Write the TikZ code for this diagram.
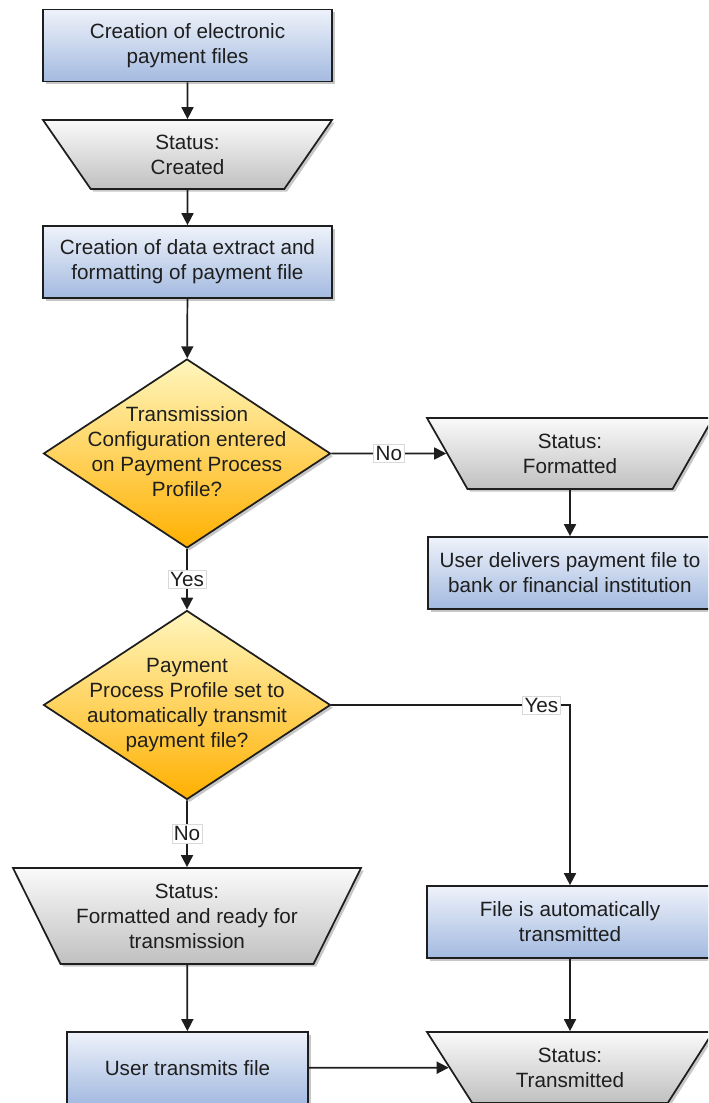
\documentclass[tikz,border=0pt]{standalone}
\usepackage{fontspec}
\setmainfont{Liberation Sans}
\usepackage{tikz}
\usetikzlibrary{shapes.geometric,arrows.meta,shadows}
\usepackage{color}

\definecolor{boxtop}{RGB}{238,242,250}
\definecolor{boxbot}{RGB}{163,186,224}
\definecolor{stattop}{RGB}{250,250,250}
\definecolor{statbot}{RGB}{192,192,192}
\definecolor{qtop}{RGB}{255,246,190}
\definecolor{qbot}{RGB}{255,176,0}
\definecolor{ink}{RGB}{30,30,30}

\newcommand{\qtext}[1]{\smash{\makebox[0pt]{\raisebox{-3.9pt}{\begin{tabular}{@{}c@{}}#1\end{tabular}}}}}

\tikzset{
	base/.style={draw=ink,line width=1.3pt,text=ink,align=center,
		font=\fontsize{15.5}{18.75}\selectfont,
		drop shadow={shadow xshift=2pt,shadow yshift=-2pt,fill=black,opacity=0.22}},
	task/.style={base,rectangle,top color=boxtop,bottom color=boxbot,
		minimum height=54pt,inner sep=2pt},
	status/.style={base,trapezium,shape border rotate=180,top color=stattop,bottom color=statbot,
		trapezium stretches body=true,inner sep=2pt},
	decision/.style={base,diamond,top color=qtop,bottom color=qbot,
		minimum width=215.25pt,minimum height=141.75pt,inner sep=0pt},
	arr/.style={draw=ink,line width=1.3pt,-{Triangle[length=9pt,width=9pt]}},
	lbl/.style={fill=white,draw=gray!30,line width=0.4pt,inner sep=1.5pt,text=ink,
		font=\fontsize{15.5}{18.75}\selectfont}
}

\begin{document}
\begin{tikzpicture}[x=0.75pt,y=-0.75pt]
	\useasboundingbox (0,0) rectangle (708,1103);
	\clip (0,0) rectangle (708,1103);
	\node[task,minimum width=216.75pt] (create) at (187.5,45.5) {Creation of electronic\\payment files};
	\node[status,minimum width=216.75pt,minimum height=51.75pt,trapezium angle=43.3] (created) at (187.5,154.5) {Status:\\Created};
	\node[task,minimum width=216.75pt] (extract) at (187.5,262) {Creation of data extract and\\formatting of payment file};
	\node[decision] (q1) at (187,453.5) {\qtext{Transmission\\Configuration entered\\on Payment Process\\Profile?}};
	\node[status,minimum width=214.5pt,minimum height=53.25pt,trapezium angle=48] (fmt) at (570,453.5) {Status:\\Formatted};
	\node[task,minimum width=213pt] (deliver) at (570,573) {User delivers payment file to\\bank or financial institution};
	\node[decision] (q2) at (187,705) {\qtext{Payment\\Process Profile set to\\automatically transmit\\payment file?}};
	\node[status,minimum width=261pt,minimum height=72pt,trapezium angle=55.8] (ready) at (187,916) {Status:\\Formatted and ready for\\transmission};
	\node[task,minimum width=214.5pt] (auto) at (570,922) {File is automatically\\transmitted};
	\node[task,minimum width=180.75pt] (usertx) at (187.5,1068) {User transmits file};
	\node[status,minimum width=214.5pt,minimum height=53.25pt,trapezium angle=44.8] (txed) at (570,1067.5) {Status:\\Transmitted};
	\draw[arr] (create) -- (created);
	\draw[arr] (created) -- (extract);
	\draw[arr] (extract) -- (q1);
	\draw[arr] (q1) -- node[lbl] {No} (fmt);
	\draw[arr] (fmt) -- (deliver);
	\draw[arr] (q1) -- node[lbl] {Yes} (q2);
	\draw[arr] (q2) -| node[lbl,pos=0.44] {Yes} (auto);
	\draw[arr] (q2) -- node[lbl] {No} (ready);
	\draw[arr] (ready) -- (usertx);
	\draw[arr] (auto) -- (txed);
	\draw[arr] (usertx) -- (txed);
\end{tikzpicture}
\end{document}
